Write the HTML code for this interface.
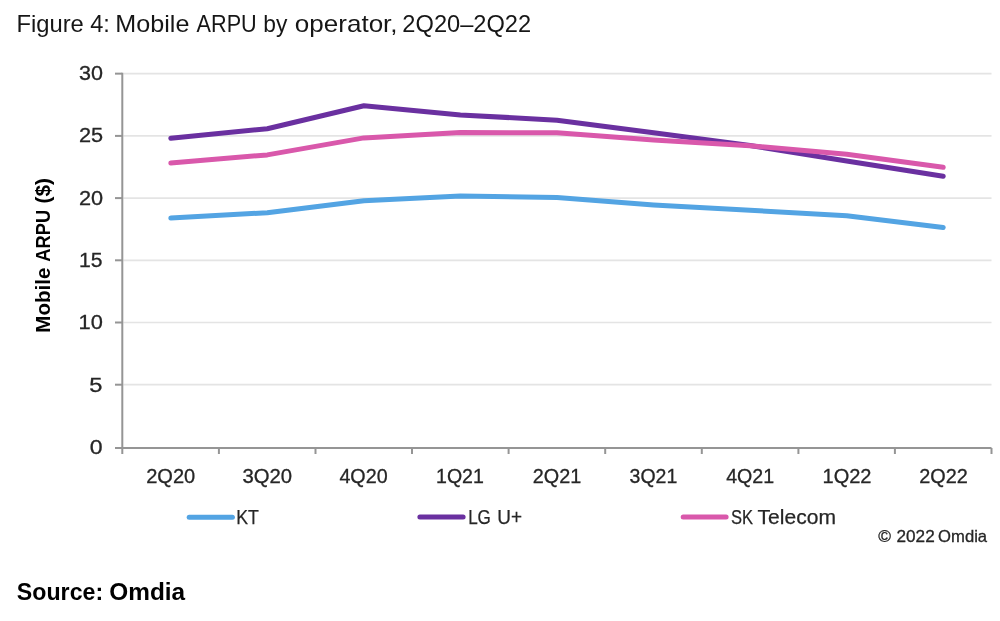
<!DOCTYPE html>
<html>
<head>
<meta charset="utf-8">
<style>
html,body{margin:0;padding:0;background:#fff;}
body{width:1000px;height:621px;overflow:hidden;position:relative;}
svg{position:absolute;left:0;top:0;display:block;will-change:transform;}
text{font-family:"Liberation Sans",Arial,sans-serif;}
</style>
</head>
<body>
<svg width="1000" height="621" viewBox="0 0 1000 621">
<text x="16.4" y="31.8" font-size="23.8" font-weight="normal" fill="#161616" textLength="67.4" lengthAdjust="spacingAndGlyphs">Figure</text>
<text x="90.2" y="31.8" font-size="23.8" font-weight="normal" fill="#161616" textLength="19.69" lengthAdjust="spacingAndGlyphs">4:</text>
<text x="115.29" y="31.8" font-size="23.8" font-weight="normal" fill="#161616" textLength="74.09" lengthAdjust="spacingAndGlyphs">Mobile</text>
<text x="196.6" y="31.8" font-size="23.8" font-weight="normal" fill="#161616" textLength="60.1" lengthAdjust="spacingAndGlyphs">ARPU</text>
<text x="263.36" y="31.8" font-size="23.8" font-weight="normal" fill="#161616" textLength="24.07" lengthAdjust="spacingAndGlyphs">by</text>
<text x="294.81" y="31.8" font-size="23.8" font-weight="normal" fill="#161616" textLength="102.79" lengthAdjust="spacingAndGlyphs">operator,</text>
<text x="402.36" y="31.8" font-size="23.8" font-weight="normal" fill="#161616" textLength="128.81" lengthAdjust="spacingAndGlyphs">2Q20–2Q22</text>
<g stroke="#e4e4e4" stroke-width="1.7">
<line x1="123.3" y1="73.65" x2="991.5" y2="73.65"/>
<line x1="123.3" y1="135.9" x2="991.5" y2="135.9"/>
<line x1="123.3" y1="198.1" x2="991.5" y2="198.1"/>
<line x1="123.3" y1="260.3" x2="991.5" y2="260.3"/>
<line x1="123.3" y1="322.5" x2="991.5" y2="322.5"/>
<line x1="123.3" y1="384.7" x2="991.5" y2="384.7"/>
</g>
<g stroke="#959595" stroke-width="2" fill="none">
<line x1="122.3" y1="72.85000000000001" x2="122.3" y2="454"/>
<line x1="115" y1="448.0" x2="991.5" y2="448.0"/>
<line x1="115" y1="73.65" x2="122.3" y2="73.65"/>
<line x1="115" y1="135.9" x2="122.3" y2="135.9"/>
<line x1="115" y1="198.1" x2="122.3" y2="198.1"/>
<line x1="115" y1="260.3" x2="122.3" y2="260.3"/>
<line x1="115" y1="322.5" x2="122.3" y2="322.5"/>
<line x1="115" y1="384.7" x2="122.3" y2="384.7"/>
<line x1="218.9" y1="448.0" x2="218.9" y2="454"/>
<line x1="315.5" y1="448.0" x2="315.5" y2="454"/>
<line x1="412.0" y1="448.0" x2="412.0" y2="454"/>
<line x1="508.6" y1="448.0" x2="508.6" y2="454"/>
<line x1="605.2" y1="448.0" x2="605.2" y2="454"/>
<line x1="701.8" y1="448.0" x2="701.8" y2="454"/>
<line x1="798.4" y1="448.0" x2="798.4" y2="454"/>
<line x1="894.9" y1="448.0" x2="894.9" y2="454"/>
<line x1="991.5" y1="448.0" x2="991.5" y2="454"/>
</g>
<text x="79.1" y="79.8" font-size="20.3" fill="#262626" stroke="#262626" stroke-width="0.3" textLength="23.96" lengthAdjust="spacingAndGlyphs">30</text>
<text x="78.93" y="142.3" font-size="20.3" fill="#262626" stroke="#262626" stroke-width="0.3" textLength="24.14" lengthAdjust="spacingAndGlyphs">25</text>
<text x="78.93" y="204.6" font-size="20.3" fill="#262626" stroke="#262626" stroke-width="0.3" textLength="24.14" lengthAdjust="spacingAndGlyphs">20</text>
<text x="78.94" y="266.8" font-size="20.3" fill="#262626" stroke="#262626" stroke-width="0.3" textLength="23.51" lengthAdjust="spacingAndGlyphs">15</text>
<text x="78.49" y="329.0" font-size="20.3" fill="#262626" stroke="#262626" stroke-width="0.3" textLength="24.29" lengthAdjust="spacingAndGlyphs">10</text>
<text x="89.33" y="391.7" font-size="20.3" fill="#262626" stroke="#262626" stroke-width="0.3" textLength="13.18" lengthAdjust="spacingAndGlyphs">5</text>
<text x="89.65" y="454.0" font-size="20.3" fill="#262626" stroke="#262626" stroke-width="0.3" textLength="12.84" lengthAdjust="spacingAndGlyphs">0</text>
<g transform="translate(50.3,340) rotate(-90)">
<text x="7.28" y="0" font-size="19.5" font-weight="bold" fill="#000" textLength="65.11" lengthAdjust="spacingAndGlyphs">Mobile</text>
<text x="78.33" y="0" font-size="19.5" font-weight="bold" fill="#000" textLength="51.96" lengthAdjust="spacingAndGlyphs">ARPU</text>
<text x="136.53" y="0" font-size="19.5" font-weight="bold" fill="#000" textLength="25.43" lengthAdjust="spacingAndGlyphs">($)</text>
</g>
<text x="146.21" y="483.3" font-size="20.3" font-weight="normal" fill="#262626" stroke="#262626" stroke-width="0.3" textLength="49.05" lengthAdjust="spacingAndGlyphs">2Q20</text>
<text x="242.45" y="483.3" font-size="20.3" font-weight="normal" fill="#262626" stroke="#262626" stroke-width="0.3" textLength="49.62" lengthAdjust="spacingAndGlyphs">3Q20</text>
<text x="339.41" y="483.3" font-size="20.3" font-weight="normal" fill="#262626" stroke="#262626" stroke-width="0.3" textLength="48.24" lengthAdjust="spacingAndGlyphs">4Q20</text>
<text x="436.05" y="483.3" font-size="20.3" font-weight="normal" fill="#262626" stroke="#262626" stroke-width="0.3" textLength="47.83" lengthAdjust="spacingAndGlyphs">1Q21</text>
<text x="532.82" y="483.3" font-size="20.3" font-weight="normal" fill="#262626" stroke="#262626" stroke-width="0.3" textLength="48.48" lengthAdjust="spacingAndGlyphs">2Q21</text>
<text x="629.58" y="483.3" font-size="20.3" font-weight="normal" fill="#262626" stroke="#262626" stroke-width="0.3" textLength="47.7" lengthAdjust="spacingAndGlyphs">3Q21</text>
<text x="726.22" y="483.3" font-size="20.3" font-weight="normal" fill="#262626" stroke="#262626" stroke-width="0.3" textLength="47.97" lengthAdjust="spacingAndGlyphs">4Q21</text>
<text x="822.52" y="483.3" font-size="20.3" font-weight="normal" fill="#262626" stroke="#262626" stroke-width="0.3" textLength="48.99" lengthAdjust="spacingAndGlyphs">1Q22</text>
<text x="919.22" y="483.3" font-size="20.3" font-weight="normal" fill="#262626" stroke="#262626" stroke-width="0.3" textLength="48.58" lengthAdjust="spacingAndGlyphs">2Q22</text>
<g fill="none" stroke-width="5.0" stroke-linecap="round" stroke-linejoin="round">
<polyline stroke="#53a4e3" points="170.8,218.0 267.3,212.75 363.9,200.8 460.4,196.0 557.0,197.5 653.6,204.9 750.1,210.3 846.7,215.75 943.2,227.5"/>
<polyline stroke="#6a30a0" points="170.8,138.3 267.3,128.7 363.9,105.7 460.4,114.9 557.0,120.2 653.6,132.7 750.1,145.5 846.7,161.0 943.2,176.3"/>
<polyline stroke="#d958ab" points="170.8,163.1 267.3,154.9 363.9,137.9 460.4,132.6 557.0,132.7 653.6,140.0 750.1,145.7 846.7,154.3 943.2,167.3"/>
</g>
<g stroke-width="5" stroke-linecap="round">
<line x1="189.2" y1="517.2" x2="232.4" y2="517.2" stroke="#53a4e3"/>
<line x1="419.9" y1="517" x2="463.1" y2="517" stroke="#6a30a0"/>
<line x1="683.2" y1="517" x2="726.1" y2="517" stroke="#d958ab"/>
</g>

<text x="236.27" y="524" font-size="20.3" font-weight="normal" fill="#262626" stroke="#262626" stroke-width="0.25" textLength="22.59" lengthAdjust="spacingAndGlyphs">KT</text>
<text x="468.13" y="524" font-size="20.3" font-weight="normal" fill="#262626" stroke="#262626" stroke-width="0.25" textLength="22.79" lengthAdjust="spacingAndGlyphs">LG</text>
<text x="497.3" y="524" font-size="20.3" font-weight="normal" fill="#262626" stroke="#262626" stroke-width="0.25" textLength="24.73" lengthAdjust="spacingAndGlyphs">U+</text>
<text x="730.88" y="524" font-size="20.3" font-weight="normal" fill="#262626" stroke="#262626" stroke-width="0.25" textLength="22.07" lengthAdjust="spacingAndGlyphs">SK</text>
<text x="757.58" y="524" font-size="20.3" font-weight="normal" fill="#262626" stroke="#262626" stroke-width="0.25" textLength="78.35" lengthAdjust="spacingAndGlyphs">Telecom</text>
<text x="878.24" y="542.2" font-size="16.5" font-weight="normal" fill="#262626" stroke="#262626" stroke-width="0.3" textLength="12.74" lengthAdjust="spacingAndGlyphs">©</text>
<text x="896.52" y="542.2" font-size="16.5" font-weight="normal" fill="#262626" stroke="#262626" stroke-width="0.3" textLength="38.19" lengthAdjust="spacingAndGlyphs">2022</text>
<text x="938.14" y="542.2" font-size="16.5" font-weight="normal" fill="#262626" stroke="#262626" stroke-width="0.3" textLength="48.97" lengthAdjust="spacingAndGlyphs">Omdia</text>
<text x="16.86" y="600.4" font-size="23.5" font-weight="bold" fill="#000" textLength="86.26" lengthAdjust="spacingAndGlyphs">Source:</text>
<text x="109.36" y="600.4" font-size="23.5" font-weight="bold" fill="#000" textLength="75.82" lengthAdjust="spacingAndGlyphs">Omdia</text>
</svg>
</body>
</html>
